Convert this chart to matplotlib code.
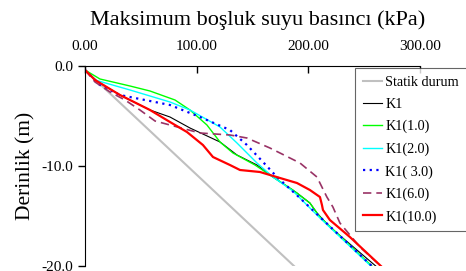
import matplotlib
matplotlib.use("Agg")
import matplotlib.pyplot as plt

plt.rcParams['font.family'] = ['Liberation Serif', 'DejaVu Serif']
plt.rcParams['axes.unicode_minus'] = False

# pressure (kPa) vs depth (m)
statik_x = [0, 190]
statik_y = [-0.4, -20.3]

k1_x = [0, 9, 31.3, 58.2, 76.1, 94, 120.9, 136.1, 154, 168.3, 189.8, 201.4, 207.7, 219.3, 261.4]
k1_y = [-0.4, -1.4, -2.9, -4.4, -5.1, -6.2, -7.6, -8.9, -9.9, -11.1, -12.7, -13.7, -14.7, -16.1, -20.1]

k1_10_x = [0, 13.4, 40.3, 58.2, 80.6, 94, 109.2, 120.9, 132.5, 152.2, 168.3, 186.2, 201.4, 210.4, 257.8]
k1_10_y = [-0.4, -1.3, -2.0, -2.5, -3.4, -4.4, -5.9, -7.6, -8.7, -9.9, -11.1, -12.4, -13.7, -15.1, -20.1]

k1_20_x = [0, 9, 40.3, 76.1, 94, 120.9, 136.1, 154, 168.3, 186.2, 210.4, 257.8]
k1_20_y = [-0.4, -1.4, -2.4, -3.6, -4.4, -6.1, -7.7, -9.7, -11.1, -12.5, -15.2, -20.2]

k1_30_x = [0, 13.4, 31.3, 53.7, 76.1, 103, 129.8, 145, 159.4, 171.9, 192.5, 210.4, 257.8]
k1_30_y = [-0.4, -1.9, -2.9, -3.4, -3.9, -5.1, -6.4, -7.9, -9.6, -11.1, -13.2, -15.1, -20.1]

k1_60_x = [0, 9, 22.4, 35.8, 49.2, 62.7, 76.1, 103, 129.8, 145, 165.6, 174.6, 192.5, 207.7, 216.6, 222, 228.3, 246.2, 265.9]
k1_60_y = [-0.4, -1.6, -2.6, -3.4, -4.4, -5.5, -5.9, -6.7, -6.9, -7.2, -8.2, -8.7, -9.7, -11.1, -13.1, -14.1, -15.7, -18.1, -20.1]

k1_100_x = [0, 9, 31.3, 58.2, 76.1, 91.3, 105.6, 114.6, 129.8, 138.8, 156.7, 174.6, 189.8, 201.4, 210.4, 212.2, 213.1, 219.3, 237.2, 265.9]
k1_100_y = [-0.4, -1.4, -2.9, -4.4, -5.6, -6.6, -7.9, -9.1, -9.9, -10.4, -10.6, -11.2, -11.7, -12.4, -13.1, -13.9, -14.4, -15.4, -17.1, -20.1]

x_ticks = [0, 100, 200, 300]
x_labels = ['0.00', '100.00', '200.00', '300.00']
y_ticks = [0, -10, -20]
y_labels = ['0.0', '-10.0', '-20.0']

fig = plt.figure(figsize=(4.66, 2.71), dpi=100)
ax = fig.add_axes([85/466, 1-266/271, 335/466, 200/271])

ax.plot(statik_x, statik_y, color='#c0c0c0', lw=1.5, label='Statik durum')
ax.plot(k1_x, k1_y, color='black', lw=0.8, label='K1')
ax.plot(k1_10_x, k1_10_y, color='#00ff00', lw=1.0, label='K1(1.0)')
ax.plot(k1_20_x, k1_20_y, color='#00ffff', lw=1.0, label='K1(2.0)')
ax.plot(k1_30_x, k1_30_y, color='#0000ff', lw=1.6, ls=(0, (1, 2)), label='K1( 3.0)')
ax.plot(k1_60_x, k1_60_y, color='#993366', lw=1.2, ls=(0, (5, 3)), label='K1(6.0)')
ax.plot(k1_100_x, k1_100_y, color='#ff0000', lw=1.6, label='K1(10.0)')

ax.set_xlim(0, 300)
ax.set_ylim(-20, 0)
ax.xaxis.tick_top()
ax.xaxis.set_label_position('top')
ax.set_xticks(x_ticks)
ax.set_xticklabels(x_labels)
ax.set_yticks(y_ticks)
ax.set_yticklabels(y_labels)
ax.tick_params(axis='x', direction='in', length=5, labelsize=11, pad=9.5, width=1)
ax.tick_params(axis='y', direction='out', length=5, labelsize=11, width=1)
ax.spines['right'].set_visible(False)
ax.spines['bottom'].set_visible(False)
ax.set_xlabel('Maksimum boşluk suyu basıncı (kPa)', fontsize=16, labelpad=10.5)
ax.xaxis.label.set_x(0.516)
ax.set_ylabel('Derinlik (m)', fontsize=15.5, labelpad=4)

leg = ax.legend(loc='upper left', bbox_to_anchor=(355/466, 1-68/271), bbox_transform=fig.transFigure,
                borderaxespad=0, fontsize=10.2, frameon=True, fancybox=False, edgecolor='#404040',
                handlelength=1.35, handletextpad=0.25, labelspacing=0.64, borderpad=0.55)
leg.get_frame().set_linewidth(0.8)

fig.savefig('out.png', dpi=100)
